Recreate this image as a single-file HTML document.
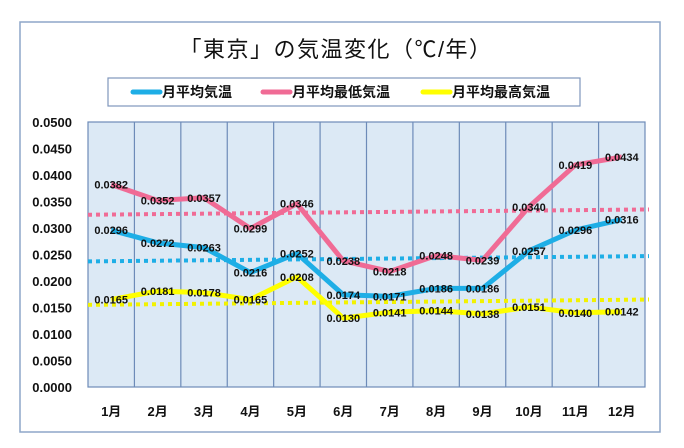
<!DOCTYPE html>
<html><head><meta charset="utf-8"><style>
body{margin:0;background:#fff;width:684px;height:448px;overflow:hidden}
svg{display:block;font-family:"Liberation Sans","Noto Sans CJK JP",sans-serif}
</style></head><body>
<svg id="s" width="684" height="448" xmlns="http://www.w3.org/2000/svg">
<rect x="20" y="22" width="640" height="410" fill="#fff" stroke="#8ea6c8" stroke-width="1.5"/>
<text x="336" y="57" text-anchor="middle" font-size="22" letter-spacing="1.5" fill="#111">「東京」の気温変化（℃/年）</text>
<rect x="108" y="78" width="472" height="28" fill="#fff" stroke="#7f96bc" stroke-width="1.2"/>
<line x1="133" y1="92" x2="160" y2="92" stroke="#1eaee6" stroke-width="5" stroke-linecap="round"/>
<text x="162" y="97" font-size="14" font-weight="bold" fill="#111">月平均気温</text>
<line x1="263" y1="92" x2="290" y2="92" stroke="#f06b95" stroke-width="5" stroke-linecap="round"/>
<text x="292" y="97" font-size="14" font-weight="bold" fill="#111">月平均最低気温</text>
<line x1="423" y1="92" x2="450" y2="92" stroke="#ffff00" stroke-width="5" stroke-linecap="round"/>
<text x="452" y="97" font-size="14" font-weight="bold" fill="#111">月平均最高気温</text>
<g id="g"></g>
</svg>
<script>
var g=document.getElementById('g'),h='';
var L=88,R=645,T=122,B=387,cw=(R-L)/12;
h+='<rect x="'+L+'" y="'+T+'" width="'+(R-L)+'" height="'+(B-T)+'" fill="#dce9f5" stroke="#6d8bb8" stroke-width="1.2"/>';
for(var i=1;i<12;i++){var x=L+cw*i;h+='<line x1="'+x+'" y1="'+T+'" x2="'+x+'" y2="'+B+'" stroke="#6d8bb8" stroke-width="1.2"/>';}
function Y(v){return B-v*5300;}
for(var k=0;k<=10;k++){var v=k*0.005;h+='<text x="72" y="'+(Y(v)+5)+'" text-anchor="end" font-size="13" font-weight="bold" fill="#111">'+v.toFixed(4)+'</text>';}
for(var i=0;i<12;i++){h+='<text x="'+(L+cw*(i+0.5))+'" y="416" text-anchor="middle" font-size="13" font-weight="bold" fill="#111">'+(i+1)+'月</text>';}
var mins=[.0382,.0352,.0357,.0299,.0346,.0238,.0218,.0248,.0239,.0340,.0419,.0434];
var avg=[.0296,.0272,.0263,.0216,.0252,.0174,.0171,.0186,.0186,.0257,.0296,.0316];
var max=[.0165,.0181,.0178,.0165,.0208,.0130,.0141,.0144,.0138,.0151,.0140,.0142];
function trend(c,a,b){h+='<line x1="'+L+'" y1="'+Y(a)+'" x2="'+(R+4)+'" y2="'+Y(b)+'" stroke="'+c+'" stroke-width="4" stroke-dasharray="4,4"/>';}
function ser(d,c){var p=d.map(function(v,i){return (L+cw*(i+0.5))+','+Y(v)}).join(' ');
h+='<polyline points="'+p+'" fill="none" stroke="'+c+'" stroke-width="5" stroke-linejoin="round"/>';}
trend('#f06b95',.0325,.0335);trend('#1eaee6',.0237,.0247);trend('#f2f200',.0155,.0165);
ser(mins,'#f06b95');ser(avg,'#1eaee6');ser(max,'#ffff00');
[mins,avg,max].forEach(function(d){d.forEach(function(v,i){h+='<text x="'+(L+cw*(i+0.5))+'" y="'+(Y(v)+4)+'" text-anchor="middle" font-size="11" font-weight="bold" fill="#111">'+v.toFixed(4)+'</text>';});});
g.innerHTML=h;
</script>
</body></html>
